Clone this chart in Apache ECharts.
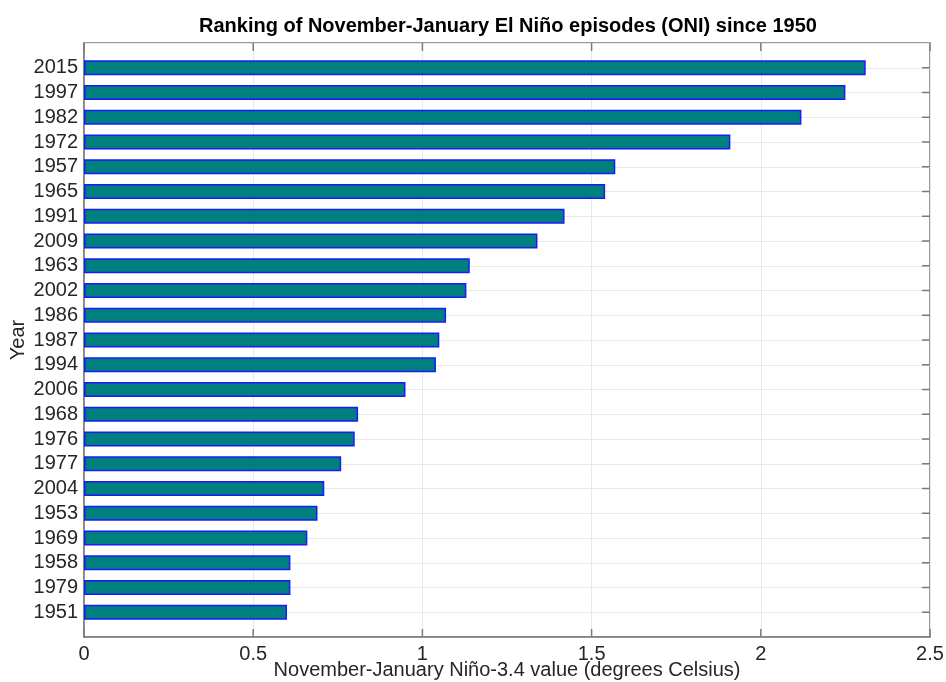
<!DOCTYPE html>
<html>
<head>
<meta charset="utf-8">
<script src="https://cdn.jsdelivr.net/npm/echarts@6/dist/echarts.min.js"></script>
<style>
  html, body { margin: 0; padding: 0; background: #fff; }
  #chart { width: 946px; height: 682px; }
</style>
</head>
<body>
<div id="chart"></div>
<script>
// El Niño episodes ranked by November-January ONI value (largest first)
const years = ['2015', '1997', '1982', '1972', '1957', '1965', '1991', '2009', '1963', '2002',
  '1986', '1987', '1994', '2006', '1968', '1976', '1977', '2004', '1953', '1969',
  '1958', '1979', '1951'];
const oniValues = [2.31, 2.25, 2.12, 1.91, 1.57, 1.54, 1.42, 1.34, 1.14, 1.13,
  1.07, 1.05, 1.04, 0.95, 0.81, 0.80, 0.76, 0.71, 0.69, 0.66,
  0.61, 0.61, 0.60];
const xTicks = [0, 0.5, 1, 1.5, 2, 2.5];

// One empty slot above and below so the bars sit on whole-number positions
const cats = [''].concat(years, ['']);
const vals = ['-'].concat(oniValues, ['-']);

const font = 'Liberation Sans, Arial, Helvetica, sans-serif';
const textColor = '#262626';
const lineColor = '#7a7a7a';
const gridColor = '#e8e8e8';
const tickLen = 8;

const tickStyle = { stroke: lineColor, lineWidth: 1.5 };

// Inward ticks on the top and bottom edges at every x tick value
function renderXTicks(params, api) {
  const cs = params.coordSys;
  const x = api.coord([api.value(0), 0])[0];
  return {
    type: 'group',
    children: [
      { type: 'line', shape: { x1: x, y1: cs.y, x2: x, y2: cs.y + tickLen }, style: tickStyle },
      { type: 'line', shape: { x1: x, y1: cs.y + cs.height, x2: x, y2: cs.y + cs.height - tickLen }, style: tickStyle }
    ]
  };
}

// Inward ticks on the right edge at every year
function renderYTicks(params, api) {
  const cs = params.coordSys;
  const y = api.coord([0, api.value(1)])[1];
  const xr = cs.x + cs.width;
  return { type: 'line', shape: { x1: xr - tickLen, y1: y, x2: xr, y2: y }, style: tickStyle };
}

const chart = echarts.init(document.getElementById('chart'));
chart.setOption({
  backgroundColor: '#fff',
  animation: false,
  title: {
    text: 'Ranking of November-January El Niño episodes (ONI) since 1950',
    left: 503, top: 11, textAlign: 'center',
    textStyle: { fontFamily: font, fontSize: 20, fontWeight: 'bold', color: '#000' }
  },
  grid: {
    left: 84, right: 16, top: 43, bottom: 45,
    outerBoundsMode: 'none', containLabel: false,
    show: true, borderColor: lineColor, borderWidth: 1.5, backgroundColor: 'transparent'
  },
  xAxis: {
    type: 'value', min: xTicks[0], max: xTicks[xTicks.length - 1], interval: 0.5,
    position: 'bottom',
    name: 'November-January Niño-3.4 value (degrees Celsius)',
    nameLocation: 'middle', nameGap: 23, nameMoveOverlap: false,
    nameTextStyle: { fontFamily: font, fontSize: 20, color: textColor },
    axisLine: { show: true, lineStyle: { color: lineColor, width: 1.5 } },
    axisTick: { show: false },
    axisLabel: { fontFamily: font, fontSize: 20, color: textColor, margin: 7 },
    splitLine: { show: true, lineStyle: { color: gridColor, width: 1 } }
  },
  yAxis: {
    type: 'category', data: cats, inverse: true, boundaryGap: false,
    position: 'left',
    name: 'Year', nameLocation: 'middle', nameGap: 56, nameRotate: 90, nameMoveOverlap: false,
    nameTextStyle: { fontFamily: font, fontSize: 20, color: textColor },
    axisLine: { show: true, lineStyle: { color: lineColor, width: 1.5 } },
    axisTick: { show: false },
    axisLabel: { fontFamily: font, fontSize: 20, color: textColor, margin: 6, interval: 0 },
    splitLine: { show: true, interval: 0, lineStyle: { color: gridColor, width: 1 } }
  },
  series: [{
    type: 'bar',
    data: vals,
    barWidth: 15,
    itemStyle: { color: '#007f7f', borderColor: '#1a1aff', borderWidth: 1.5 },
    z: 2
  }, {
    type: 'custom',
    renderItem: renderXTicks,
    data: xTicks.map(function (v) { return [v, 0]; }),
    encode: { x: 0, y: 1 },
    clip: false, silent: true, z: 3
  }, {
    type: 'custom',
    renderItem: renderYTicks,
    data: years.map(function (y) { return [xTicks[xTicks.length - 1], y]; }),
    encode: { x: 0, y: 1 },
    clip: false, silent: true, z: 3
  }]
});
</script>
</body>
</html>
